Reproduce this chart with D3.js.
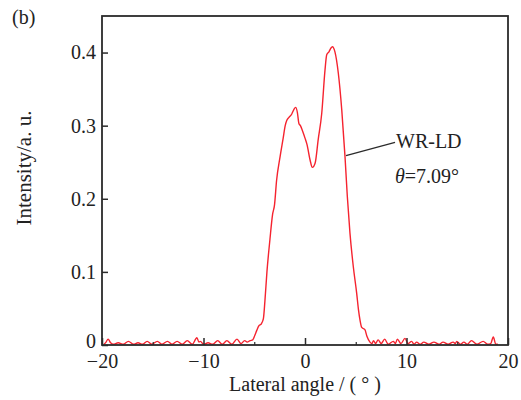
<!DOCTYPE html>
<html>
<head>
<meta charset="utf-8">
<script src="https://cdn.jsdelivr.net/npm/d3@7"></script>
<style>
  html, body { margin: 0; padding: 0; background: #fff; }
  svg { display: block; }
  text { font-family: "Liberation Serif", "DejaVu Serif", serif; fill: #222; }
</style>
</head>
<body>
<svg id="chart" width="521" height="400"></svg>
<script>
// ---- data ----
const angles = [
  -19.8, -19.6, -19.4, -19.15, -18.9, -18.4, -17.9, -17.4, -16.9, -16.45,
  -16.0, -15.55, -15.1, -14.55, -14.1, -13.55, -13.1, -12.6, -12.1, -11.6,
  -11.1, -10.65, -10.45, -10.3, -10.0, -9.55, -9.1, -8.6, -8.15, -7.7,
  -7.2, -6.7, -6.3, -5.95, -5.7, -5.4, -5.15, -4.95, -4.75, -4.55,
  -4.3, -4.1, -3.95, -3.75, -3.45, -3.2, -3.0, -2.8, -2.45, -2.15,
  -1.95, -1.8, -1.6, -1.3, -1.1, -0.92, -0.75, -0.6, -0.45, -0.25,
  0.0, 0.2, 0.5, 0.72, 1.0, 1.3, 1.65, 1.97, 2.14, 2.36,
  2.55, 2.7, 2.95, 3.28, 3.62, 3.94, 4.17, 4.43, 4.76, 5.09,
  5.27, 5.42, 5.59, 5.9, 6.1, 6.4, 6.6, 6.75, 6.95, 7.2,
  7.5, 7.85, 8.2, 8.7, 8.9, 9.1, 9.45, 9.85, 10.15, 10.5,
  10.75, 11.0, 11.35, 11.7, 12.2, 12.7, 13.2, 13.6, 14.1, 14.6,
  14.8, 14.95, 15.3, 15.65, 16.0, 16.4, 16.95, 17.55, 18.0, 18.3,
  18.55, 18.8, 19.0
];
const intensity = [
  0.001, 0.004, 0.008, 0.003, 0.001, 0.003, 0.001, 0.005, 0.001, 0.003,
  0.001, 0.005, 0.001, 0.005, 0.001, 0.005, 0.001, 0.005, 0.001, 0.006,
  0.001, 0.010, 0.004, 0.005, 0.001, 0.003, 0.001, 0.006, 0.001, 0.006,
  0.001, 0.008, 0.002, 0.006, 0.004, 0.006, 0.007, 0.013, 0.020, 0.026,
  0.029, 0.036, 0.060, 0.100, 0.145, 0.178, 0.192, 0.225, 0.258, 0.283,
  0.300, 0.307, 0.311, 0.316, 0.322, 0.325, 0.318, 0.303, 0.300, 0.293,
  0.283, 0.274, 0.253, 0.243, 0.249, 0.281, 0.317, 0.376, 0.397, 0.401,
  0.406, 0.408, 0.401, 0.372, 0.322, 0.258, 0.203, 0.153, 0.107, 0.071,
  0.048, 0.034, 0.024, 0.021, 0.012, 0.004, 0.002, 0.006, 0.002, 0.007,
  0.002, 0.008, 0.001, 0.005, 0.002, 0.008, 0.002, 0.009, 0.002, 0.005,
  0.001, 0.004, 0.001, 0.004, 0.001, 0.004, 0.001, 0.004, 0.001, 0.004,
  0.002, 0.005, 0.001, 0.004, 0.001, 0.006, 0.001, 0.005, 0.001, 0.002,
  0.011, 0.001, 0.001
];
const xTicks = [-20, -10, 0, 10, 20];
const xMinorTicks = [-15, -5, 5, 15];
const yTicks = [0, 0.1, 0.2, 0.3, 0.4];
const xTickLabels = ["\u221220", "\u221210", "0", "10", "20"];
const yTickLabels = ["0", "0.1", "0.2", "0.3", "0.4"];
const seriesName = "WR-LD";
const annotationFrom = [4.04, 0.259];
const annotationTo = [8.87, 0.277];
const panelLabel = "(b)";
const xTitle = "Lateral angle / ( \u00b0 )";
const yTitle = "Intensity/a. u.";

// ---- layout ----
const svg = d3.select("#chart");
const L = 102, R = 508, T = 16, B = 345;
const axisColor = "#2b2b2b";

const x = d3.scaleLinear().domain([-20, 20]).range([L, R]);
const y = d3.scaleLinear().domain([0, 0.45]).range([B, T]);

svg.append("defs").append("clipPath").attr("id", "clip")
  .append("rect").attr("x", L).attr("y", T).attr("width", R - L).attr("height", B - T);

// curve
const line = d3.line()
  .x((d, i) => x(angles[i]))
  .y((d, i) => y(intensity[i]))
  .curve(d3.curveMonotoneX);

svg.append("path")
  .datum(intensity)
  .attr("clip-path", "url(#clip)")
  .attr("fill", "none")
  .attr("stroke", "#f5232f")
  .attr("stroke-width", 1.4)
  .attr("stroke-linejoin", "round")
  .attr("d", line);

// x axis (bottom), ticks inward
const xAxis = d3.axisBottom(x).tickValues(xTicks)
  .tickFormat((d, i) => xTickLabels[i]).tickSize(-7).tickPadding(9);
const gx = svg.append("g").attr("transform", `translate(0,${B})`).call(xAxis);
gx.select(".domain").remove();
gx.selectAll(".tick line").attr("stroke", axisColor).attr("stroke-width", 1.5);
gx.selectAll(".tick text").attr("font-size", 20).attr("fill", "#222")
  .attr("font-family", "Liberation Serif");

const xMinor = d3.axisBottom(x).tickValues(xMinorTicks).tickFormat("").tickSize(-3);
const gxm = svg.append("g").attr("transform", `translate(0,${B})`).call(xMinor);
gxm.select(".domain").remove();
gxm.selectAll(".tick line").attr("stroke", axisColor).attr("stroke-width", 1.2);

// y axis (left), ticks inward
const yAxis = d3.axisLeft(y).tickValues(yTicks)
  .tickFormat((d, i) => yTickLabels[i]).tickSize(-6).tickPadding(6);
const gy = svg.append("g").attr("transform", `translate(${L},0)`).call(yAxis);
gy.select(".domain").remove();
gy.selectAll(".tick line").attr("stroke", axisColor).attr("stroke-width", 1.5);
gy.selectAll(".tick text").attr("font-size", 20).attr("fill", "#222")
  .attr("font-family", "Liberation Serif");
// lift the "0" label slightly so it clears the "−20" label below it
gy.selectAll(".tick text").filter(d => d === 0).attr("dy", "0.12em");

// frame
svg.append("rect")
  .attr("x", L).attr("y", T).attr("width", R - L).attr("height", B - T)
  .attr("fill", "none").attr("stroke", axisColor).attr("stroke-width", 1.8);

// annotation
svg.append("line")
  .attr("x1", x(annotationFrom[0])).attr("y1", y(annotationFrom[1]))
  .attr("x2", x(annotationTo[0])).attr("y2", y(annotationTo[1]))
  .attr("stroke", axisColor).attr("stroke-width", 1.3);

svg.append("text")
  .attr("x", x(annotationTo[0]) + 1).attr("y", 148)
  .attr("font-size", 20).text(seriesName);

const th = svg.append("text")
  .attr("x", x(annotationTo[0])).attr("y", 183)
  .attr("font-size", 20);
th.append("tspan").attr("font-style", "italic").text("\u03b8");
th.append("tspan").text("=7.09\u00b0");

// titles
svg.append("text")
  .attr("x", x(0)).attr("y", 391)
  .attr("text-anchor", "middle").attr("font-size", 20)
  .text(xTitle);

svg.append("text")
  .attr("transform", `translate(31,168) rotate(-90)`)
  .attr("text-anchor", "middle").attr("font-size", 21)
  .text(yTitle);

svg.append("text")
  .attr("x", 12).attr("y", 24).attr("font-size", 20)
  .text(panelLabel);
</script>
</body>
</html>
